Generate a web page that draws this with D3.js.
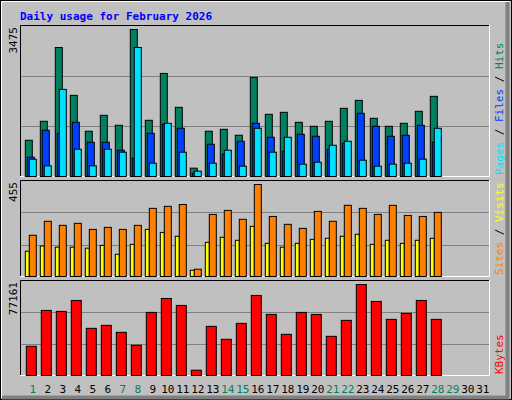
<!DOCTYPE html>
<html><head><meta charset="utf-8">
<script src="https://cdn.jsdelivr.net/npm/d3@7"></script>
<style>body{margin:0;background:#fff}</style></head>
<body><svg id="c" width="512" height="400"></svg>
<script>
const days = d3.range(1, 32);
const hits = [857,1305,3050,1918,1069,1447,1211,3475,1329,2437,1635,197,1069,1116,975,2343,1470,1517,1281,1187,1305,1612,1800,1376,1187,1258,1541,1895];
const files = [456,1093,1022,1281,810,810,621,432,1022,1234,1140,79,763,527,833,1258,928,598,998,951,645,786,1494,1187,951,975,1211,810];
const pages = [409,252,2060,645,252,645,574,3050,314,1258,574,126,314,621,244,1140,574,928,291,338,739,833,385,244,291,314,409,1140];
const visits = [125,151,145,145,140,154,110,159,233,218,199,31,169,194,179,248,164,145,164,184,189,199,209,159,179,164,179,189];
const sites = [204,273,253,263,233,243,233,253,337,347,356,36,307,327,283,455,297,258,238,322,273,352,337,307,352,302,297,317];
const kbytes = [24782,55196,54351,63644,39989,42523,36610,25627,53506,65334,59420,4506,41678,30696,44213,67868,51816,34920,53506,51816,33230,46747,77161,62799,47592,52661,63644,47592];
const weekends = [1,7,8,14,15,21,22,28,29];
const maxHits = 3475, maxSites = 455, maxK = 77161;

const svg = d3.select('#c');
const F = "'DejaVu Sans Mono', monospace";
svg.append('rect').attr('width',512).attr('height',400).attr('fill','#c0c0c0');
svg.append('rect').attr('x',0.5).attr('y',0.5).attr('width',511).attr('height',399).attr('fill','none').attr('stroke','#000');
svg.append('path').attr('d','M507.5,2 V397.5 H2').attr('fill','none').attr('stroke','#808080').attr('stroke-width',4);
svg.append('path').attr('d','M1.5,398 V1.5 H510').attr('fill','none').attr('stroke','#fff').attr('stroke-width',1);
svg.append('text').attr('x',20).attr('y',20).attr('font-family',F).attr('font-weight','bold')
  .attr('font-size',11).attr('fill','#0000ff').text('Daily usage for February 2026');

const X0 = 20, X1 = 490;
const x = d3.scaleLinear().domain([1,2]).range([25.3,40.3]);

function panel(y0, y1, base, topY, maxV, series, labelParts) {
  svg.append('rect').attr('x',X0).attr('y',y0).attr('width',X1-X0).attr('height',y1-y0).attr('fill','#c0c0c0');
  const g1 = y0 + (y1-y0)/3, g2 = y0 + 2*(y1-y0)/3;
  [g1,g2].forEach(g=>svg.append('line').attr('x1',X0).attr('x2',X1).attr('y1',Math.round(g)+0.5).attr('y2',Math.round(g)+0.5).attr('stroke','#808080'));
  svg.append('path').attr('d',`M${X0+0.5},${y1} V${y0+0.5} H${X1}`).attr('fill','none').attr('stroke','#000');
  svg.append('path').attr('d',`M${X1-0.5},${y0} V${y1-0.5} H${X0}`).attr('fill','none').attr('stroke','#fff');
  const y = d3.scaleLinear().domain([0,maxV]).range([base, topY]);
  series.forEach(s=>{
    svg.append('g').selectAll('rect').data(s.data).join('rect')
      .attr('x',(d,i)=>x(i+1)+s.off).attr('width',s.w)
      .attr('y',d=>y(d)).attr('height',d=>Math.max(0,base-y(d)))
      .attr('fill',s.color).attr('stroke','#000').attr('stroke-width',1);
  });
  svg.append('text').attr('transform',`translate(17,${y0+2}) rotate(-90)`).attr('text-anchor','end')
    .attr('font-family',F).attr('font-size',11).attr('fill','#000').text(d3.format('d')(maxV));
  const t = svg.append('text').attr('transform',`translate(503,${y1-2}) rotate(-90)`)
    .attr('font-family',F).attr('font-size',11);
  labelParts.forEach(p=>t.append('tspan').attr('fill',p[1]).text(p[0]));
}

panel(25, 177, 176.5, 29.5, maxHits, [
  {data:hits, off:0, w:7, color:'#008060'},
  {data:files, off:2, w:7, color:'#0040ff'},
  {data:pages, off:4, w:7, color:'#00e0ff'}
], [['Pages','#00e0ff'],[' / ','#000'],['Files','#0040ff'],[' / ','#000'],['Hits','#008060']]);

panel(180, 277, 276.5, 184.5, maxSites, [
  {data:visits, off:0, w:4, color:'#ffff00'},
  {data:sites, off:4, w:7, color:'#ff8000'}
], [['Sites','#ff8000'],[' / ','#000'],['Visits','#ffff00']]);

panel(280, 376, 375.5, 284.5, maxK, [
  {data:kbytes, off:1, w:10, color:'#ff0000'}
], [['KBytes','#ff0000']]);

svg.append('g').selectAll('text').data(days).join('text')
  .attr('x',d=>x(d)+7.5).attr('y',393).attr('text-anchor','middle')
  .attr('font-family',F).attr('font-size',11)
  .attr('fill',d=>weekends.includes(d)?'#008060':'#000').text(d=>d);
</script></body></html>
